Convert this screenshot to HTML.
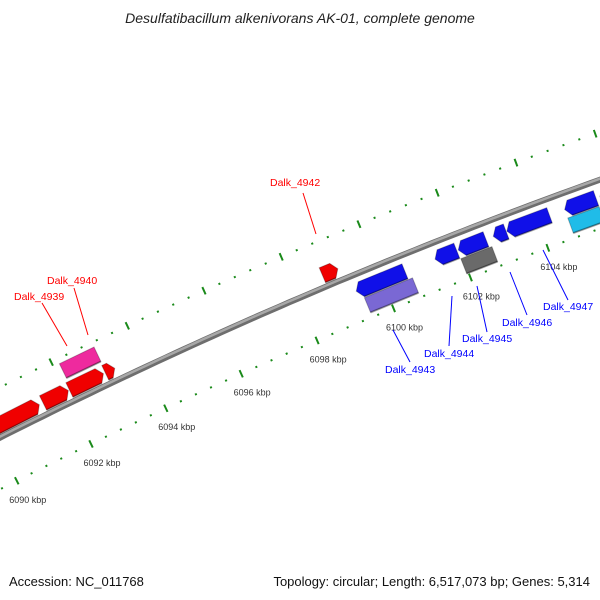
<!DOCTYPE html>
<html><head><meta charset="utf-8"><style>
body{margin:0;background:#fff}
svg{display:block;font-family:"Liberation Sans",sans-serif}
</style></head><body>
<svg id="map" width="600" height="600" viewBox="0 0 600 600">
<text x="300" y="23" text-anchor="middle" font-size="14" font-style="italic" fill="#222">Desulfatibacillum alkenivorans AK-01, complete genome</text>
<g id="ticks"></g>
<g id="backbone"></g>
<g id="genes"></g>
<g id="labels"></g>
<text x="9" y="586" font-size="13" fill="#111">Accession: NC_011768</text>
<text x="590" y="586" text-anchor="end" font-size="13" fill="#111">Topology: circular; Length: 6,517,073 bp; Genes: 5,314</text>
</svg>
<script>
const geneStarts=[6088.5,6091.4,6092.1,6093.05,6092.16,6098.73,6099.33,6101.37,6101.97,6102.87,6103.22,6104.7,6105.6,6099.45,6101.95,6104.7];
const geneEnds=[6091.3,6092.07,6093.0,6093.3,6093.07,6099.13,6100.59,6101.93,6102.68,6103.2,6104.31,6105.5,6106.6,6100.7,6102.75,6105.5];
const geneStrand=[1,1,1,1,0,1,-1,-1,-1,-1,-1,-1,-1,0,0,0];
const geneRow=[1,1,1,1,2,1,-1,-1,-1,-1,-1,-1,-1,-2,-2,-2];
const geneColors=["#f00000","#f00000","#f00000","#f00000","#ee2a9e","#f00000","#1010e8","#1010e8","#1010e8","#1010e8","#1010e8","#1010e8","#1010e8","#7a68d4","#6a6a6a","#20bce8"];
const geneNames=["Dalk_4938","Dalk_4939a","Dalk_4939","Dalk_4941","Dalk_4940","Dalk_4942","Dalk_4943b","Dalk_4944b","Dalk_4944","Dalk_4945b","Dalk_4946","Dalk_4947b","Dalk_4948","Dalk_4943","Dalk_4945","Dalk_4947"];
const majorTicks=[6088,6090,6092,6094,6096,6098,6100,6102,6104,6106];
const tickLabels=["6088 kbp","6090 kbp","6092 kbp","6094 kbp","6096 kbp","6098 kbp","6100 kbp","6102 kbp","6104 kbp","6106 kbp"];
const labelText=["Dalk_4939","Dalk_4940","Dalk_4942","Dalk_4943","Dalk_4944","Dalk_4945","Dalk_4946","Dalk_4947"];
const labelColor=["#f00","#f00","#f00","#00f","#00f","#00f","#00f","#00f"];

const NS="http://www.w3.org/2000/svg";
const CX=2382,CY=5151,R=5281;
function ang(kb){return (-116.86+(kb-6090)*0.4536)*Math.PI/180;}
function pt(kb,r){const a=ang(kb);return [CX+r*Math.cos(a),CY+r*Math.sin(a)];}
function mk(tag,attrs,parent){const e=document.createElementNS(NS,tag);for(const k in attrs)e.setAttribute(k,attrs[k]);parent.appendChild(e);return e;}

const tg=document.getElementById('ticks');
[5235,5326].forEach((r,ti)=>{
  for(let i=0;i<=50;i++){
    const kb=6086+i*0.4;
    const major=Math.abs(kb/2-Math.round(kb/2))<1e-6;
    const h=major?4:1;
    const a=pt(kb,r-h),b=pt(kb,r+h);
    const t=mk('line',{x1:a[0],y1:a[1],x2:b[0],y2:b[1],stroke:'#1a8a1a','stroke-width':2},tg);
    
    
  }
});
majorTicks.forEach((kb,i)=>{
  const p=pt(kb,5235);
  const t=mk('text',{x:p[0]+11,y:p[1]+22,'text-anchor':'middle','font-size':9,fill:'#333'},tg);
  t.textContent=tickLabels[i];
  
  
});

const bg=document.getElementById('backbone');
function arcPath(r,k0,k1){let d='';for(let k=k0;k<=k1+1e-9;k+=0.25){const p=pt(k,r);d+=(d?'L':'M')+p[0].toFixed(1)+' '+p[1].toFixed(1);}return d;}
const b1=mk('path',{d:arcPath(R,6087,6108),stroke:'#6e6e6e','stroke-width':6,fill:'none'},bg);


const b2=mk('path',{d:arcPath(R+1,6087,6108),stroke:'#a8a8a8','stroke-width':2.5,fill:'none'},bg);



const gg=document.getElementById('genes');
const rowR={1:5293,2:5313,'-1':5265,'-2':5248};
geneStarts.forEach((s,i)=>{
  const e=geneEnds[i],rc=rowR[geneRow[i]],h=8,head=0.13;
  let pts;
  if(geneStrand[i]===1){
    const hs=Math.max(s,e-head);
    pts=[pt(s,rc-h),pt(hs,rc-h),pt(e,rc),pt(hs,rc+h),pt(s,rc+h)];
  }else if(geneStrand[i]===-1){
    const hs=Math.min(e,s+head);
    pts=[pt(e,rc-h),pt(hs,rc-h),pt(s,rc),pt(hs,rc+h),pt(e,rc+h)];
  }else{
    pts=[pt(s,rc-h),pt(e,rc-h),pt(e,rc+h),pt(s,rc+h)];
  }
  const p=mk('polygon',{points:pts.map(q=>q[0].toFixed(1)+','+q[1].toFixed(1)).join(' '),fill:geneColors[i],stroke:'rgba(0,0,0,0.25)','stroke-width':1},gg);
  
  
  const hl=mk('line',{x1:pts[0][0],y1:pts[0][1],x2:pts[1][0],y2:pts[1][1],stroke:'rgba(0,0,0,0.3)','stroke-width':2},gg);
  
  
});

const lg=document.getElementById('labels');
const labelPos=[[14,300],[47,284],[270,186],[385,373],[424,357],[462,342],[502,326],[543,310]];
const leader=[[42,303,67,346],[74,288,88,335],[303,193,316,234],[410,362,393,330],[449,346,452,296],[487,332,477,286],[527,315,510,272],[568,300,543,250]];
labelText.forEach((t,i)=>{
  const l=mk('line',{x1:leader[i][0],y1:leader[i][1],x2:leader[i][2],y2:leader[i][3],stroke:labelColor[i],'stroke-width':1},lg);
  
  
  const tx=mk('text',{x:labelPos[i][0],y:labelPos[i][1],'font-size':10.5,fill:labelColor[i]},lg);
  tx.textContent=t;
  
  
});
</script>
</body></html>
